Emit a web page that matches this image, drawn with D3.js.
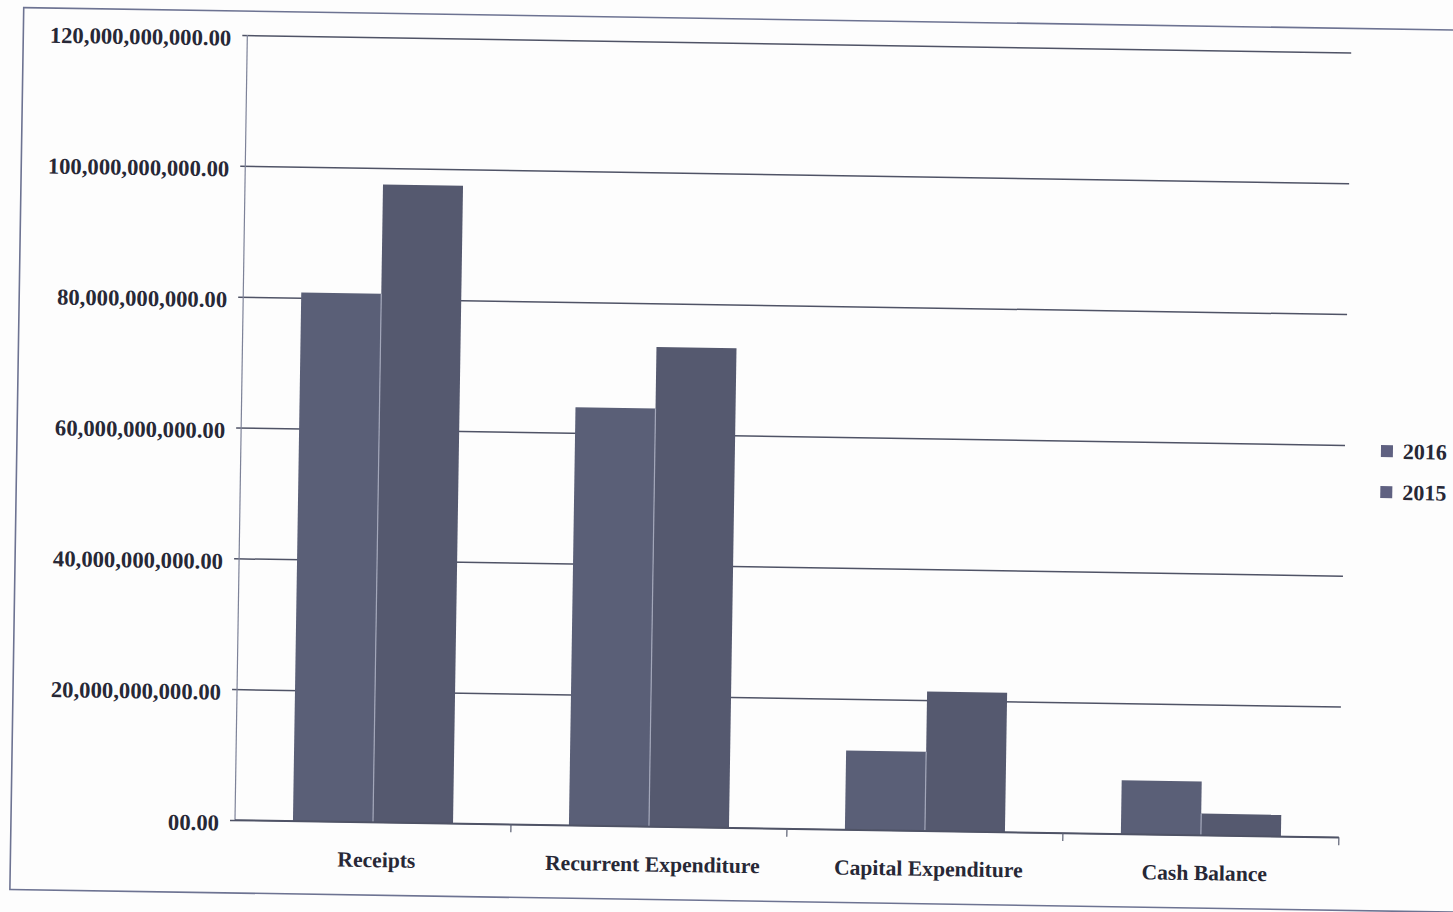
<!DOCTYPE html>
<html>
<head>
<meta charset="utf-8">
<script src="https://cdn.jsdelivr.net/npm/d3@7/dist/d3.min.js"></script>
<style>
  html, body { margin: 0; padding: 0; background: #fdfdfd; }
  svg { display: block; }
  text { font-family: "Liberation Serif", "Times New Roman", serif; font-weight: bold; fill: #272836; }
</style>
</head>
<body>
<svg id="chart" width="1453" height="912"></svg>
<script>
// Budget summary: receipts and spending by year
const categories = ["Receipts", "Recurrent Expenditure", "Capital Expenditure", "Cash Balance"];
const seriesNames = ["2016", "2015"];
const values2016 = [80.8e9, 63.9e9, 12.1e9, 8.2e9];
const values2015 = [97.5e9, 73.3e9, 21.3e9, 3.3e9];
const yTickValues = [0, 20e9, 40e9, 60e9, 80e9, 100e9, 120e9];
const yTickLabels = ["00.00", "20,000,000,000.00", "40,000,000,000.00", "60,000,000,000.00",
                     "80,000,000,000.00", "100,000,000,000.00", "120,000,000,000.00"];

const seriesValues = { "2016": values2016, "2015": values2015 };
const rows = categories.map((c, i) => ({ category: c, values: seriesNames.map(s => ({ key: s, value: seriesValues[s][i] })) }));

const svg = d3.select("#chart");
const plot = { left: 235, top: 35, right: 1339, bottom: 820 };

// whole page sits slightly tilted on the sheet
const root = svg.append("g").attr("transform", `rotate(0.9, ${plot.left}, ${plot.bottom})`);

// outer frame
root.append("rect")
  .attr("x", 11).attr("y", 11).attr("width", 1480).attr("height", 882)
  .attr("fill", "none").attr("stroke", "#6d7392").attr("stroke-width", 1.6);

const y = d3.scaleLinear().domain([0, 120e9]).range([plot.bottom, plot.top]);
const x0 = d3.scaleBand().domain(categories).range([plot.left, plot.right]).paddingInner(0.42).paddingOuter(0.21);
const x1 = d3.scaleBand().domain(seriesNames).range([0, x0.bandwidth()]);
const color = d3.scaleOrdinal().domain(seriesNames).range(["#5a5f77", "#55596f"]);

// gridlines + y axis labels
const yAxis = d3.axisLeft(y)
  .tickValues(yTickValues)
  .tickSize(-(plot.right - plot.left))
  .tickPadding(16)
  .tickFormat((d, i) => yTickLabels[i]);

const gy = root.append("g").attr("transform", `translate(${plot.left},0)`).call(yAxis);
gy.select(".domain").remove();
gy.selectAll(".tick line").attr("stroke", "#4f5366").attr("stroke-width", 1.5).attr("x1", -5);
gy.selectAll(".tick text")
  .attr("font-size", 22.7).attr("dy", "0.45em")
  .style("font-family", '"Liberation Serif", serif').style("font-weight", "bold").attr("fill", "#272836");

// vertical axis line
root.append("line")
  .attr("x1", plot.left).attr("x2", plot.left)
  .attr("y1", plot.top).attr("y2", plot.bottom)
  .attr("stroke", "#7d8298").attr("stroke-width", 1.2);

// bars
const groups = root.append("g").selectAll("g").data(rows).join("g")
  .attr("transform", d => `translate(${x0(d.category)},0)`);

groups.selectAll("rect").data(d => d.values).join("rect")
  .attr("x", d => x1(d.key))
  .attr("y", d => y(d.value))
  .attr("width", x1.bandwidth())
  .attr("height", d => y(0) - y(d.value))
  .attr("fill", d => color(d.key));

// light seam between the paired bars
groups.append("line")
  .attr("x1", x1("2015")).attr("x2", x1("2015"))
  .attr("y1", d => y(Math.min(d.values[0].value, d.values[1].value)))
  .attr("y2", y(0))
  .attr("stroke", "#a3a7ba").attr("stroke-width", 1.2);

// baseline with category boundary ticks
root.append("line")
  .attr("x1", plot.left).attr("x2", plot.right)
  .attr("y1", y(0)).attr("y2", y(0))
  .attr("stroke", "#4f5366").attr("stroke-width", 1.5);

const boundaries = categories.map(c => x0(c) + x0.bandwidth() + (x0.step() - x0.bandwidth()) / 2);
root.append("g").selectAll("line").data(boundaries).join("line")
  .attr("x1", d => d).attr("x2", d => d)
  .attr("y1", y(0)).attr("y2", y(0) + 8)
  .attr("stroke", "#5a5f72").attr("stroke-width", 1.2);

// category labels
root.append("g").selectAll("text").data(categories).join("text")
  .attr("x", d => x0(d) + x0.bandwidth() / 2 + 4)
  .attr("y", 865)
  .attr("text-anchor", "middle")
  .attr("font-size", 21.6)
  .text(d => d);

// legend
const legend = root.append("g").attr("transform", "translate(1375,433)");
const items = legend.selectAll("g").data(seriesNames).join("g")
  .attr("transform", (d, i) => `translate(0,${i * 41})`);
items.append("rect")
  .attr("x", 0).attr("y", -6).attr("width", 12).attr("height", 12)
  .attr("fill", "#5f6181");
items.append("text")
  .attr("x", 22).attr("y", 0).attr("dy", "0.35em")
  .attr("font-size", 22)
  .text(d => d);
</script>
</body>
</html>
